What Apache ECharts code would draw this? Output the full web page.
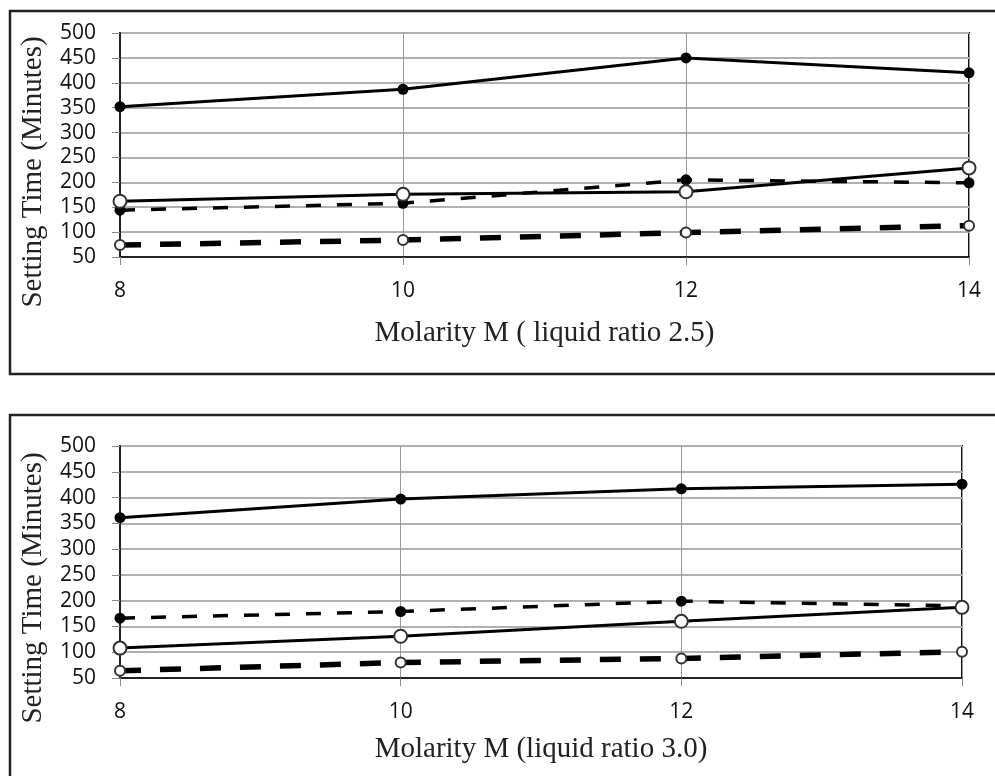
<!DOCTYPE html>
<html>
<head>
<meta charset="utf-8">
<script src="https://cdn.jsdelivr.net/npm/echarts@6/dist/echarts.min.js"></script>
<style>
html,body{margin:0;padding:0;background:#fff;}
#chart{width:995px;height:776px;}
</style>
</head>
<body>
<div id="chart"></div>
<script>
// Molarity (x axis)
const molarity = [8, 10, 12, 14];
const yTicks = [50, 100, 150, 200, 250, 300, 350, 400, 450, 500];
const xTitle1 = 'Molarity M ( liquid ratio 2.5)';
const xTitle2 = 'Molarity M (liquid ratio 3.0)';
const yTitle = 'Setting Time (Minutes)';

// Panel 1 (liquid ratio 2.5)
const p1SolidFilled = [352, 387, 450, 420];
const p1SolidOpen   = [162, 176, 181, 229];
const p1DashFilled  = [144, 158, 205, 199];
const p1DashOpen    = [74, 84, 99, 113];

// Panel 2 (liquid ratio 3.0)
const p2SolidFilled = [361, 397, 417, 426];
const p2SolidOpen   = [108, 131, 160, 187];
const p2DashFilled  = [166, 179, 199, 190];
const p2DashOpen    = [64, 80, 88, 101];

const pairs = arr => molarity.map((m, i) => [m, arr[i]]);

const tickFont = { fontFamily: 'Open Sans', fontSize: 21, color: '#111' };
const serif = 'Liberation Serif';

function xAxisFor(idx, title, gap) {
  return {
    gridIndex: idx, type: 'value', min: 8, max: 14, interval: 2,
    axisLine: { show: true, onZero: false, lineStyle: { color: '#222', width: 2 } },
    axisTick: { show: true, length: 8, lineStyle: { color: '#888', width: 1 } },
    axisLabel: Object.assign({ margin: 24 }, tickFont),
    splitLine: { show: true, lineStyle: { color: '#999', width: 1 } },
    name: title, nameLocation: 'middle', nameGap: gap,
    nameTextStyle: { fontFamily: serif, fontSize: 29, color: '#222' }
  };
}
function yAxisFor(idx) {
  return {
    gridIndex: idx, type: 'value', min: yTicks[0], max: yTicks[yTicks.length - 1], interval: 50,
    axisLine: { show: true, lineStyle: { color: '#222', width: 2 } },
    axisTick: { show: true, length: 8, lineStyle: { color: '#888', width: 1 } },
    axisLabel: Object.assign({ margin: 24, align: 'right' }, tickFont),
    splitLine: { show: true, lineStyle: { color: '#b0b0b0', width: 2 } }
  };
}

function seriesFor(idx, sf, so, df, dO) {
  return [
    { type: 'line', xAxisIndex: idx, yAxisIndex: idx, data: pairs(df),
      symbol: 'circle', symbolSize: 11, itemStyle: { color: '#000' },
      lineStyle: { color: '#000', width: 3.5, type: [15, 16] }, z: 3 },
    { type: 'line', xAxisIndex: idx, yAxisIndex: idx, data: pairs(dO),
      symbol: 'emptyCircle', symbolSize: 10, itemStyle: { color: '#333', borderWidth: 1.3 },
      lineStyle: { color: '#000', width: 5.5, type: [21, 19] }, z: 3 },
    { type: 'line', xAxisIndex: idx, yAxisIndex: idx, data: pairs(so),
      symbol: 'emptyCircle', symbolSize: 13, itemStyle: { color: '#333', borderWidth: 1.3 },
      lineStyle: { color: '#000', width: 3 }, z: 4 },
    { type: 'line', xAxisIndex: idx, yAxisIndex: idx, data: pairs(sf),
      symbol: 'circle', symbolSize: 11, itemStyle: { color: '#000' },
      lineStyle: { color: '#000', width: 3 }, z: 4 }
  ];
}

const chart = echarts.init(document.getElementById('chart'), null, { renderer: 'canvas' });
chart.setOption({
  animation: false,
  backgroundColor: '#fff',
  grid: [
    { left: 120, top: 33, width: 849, height: 224, show: true, borderColor: '#111', borderWidth: 2, backgroundColor: 'transparent' },
    { left: 120, top: 446, width: 842, height: 232, show: true, borderColor: '#111', borderWidth: 2, backgroundColor: 'transparent' }
  ],
  xAxis: [xAxisFor(0, xTitle1, 62), xAxisFor(1, xTitle2, 57)],
  yAxis: [yAxisFor(0), yAxisFor(1)],
  series: [].concat(
    seriesFor(0, p1SolidFilled, p1SolidOpen, p1DashFilled, p1DashOpen),
    seriesFor(1, p2SolidFilled, p2SolidOpen, p2DashFilled, p2DashOpen)
  ),
  graphic: [
    { type: 'rect', shape: { x: 10, y: 11, width: 1000, height: 363 }, style: { fill: 'none', stroke: '#222', lineWidth: 2.5 }, silent: true },
    { type: 'rect', shape: { x: 10, y: 415, width: 1000, height: 420 }, style: { fill: 'none', stroke: '#222', lineWidth: 2.5 }, silent: true },
    { type: 'text', x: 33, y: 172, rotation: Math.PI / 2,
      style: { text: yTitle, font: '29px "Liberation Serif"', fill: '#222', align: 'center', verticalAlign: 'middle' } },
    { type: 'text', x: 33, y: 588, rotation: Math.PI / 2,
      style: { text: yTitle, font: '29px "Liberation Serif"', fill: '#222', align: 'center', verticalAlign: 'middle' } }
  ]
});
</script>
</body>
</html>
